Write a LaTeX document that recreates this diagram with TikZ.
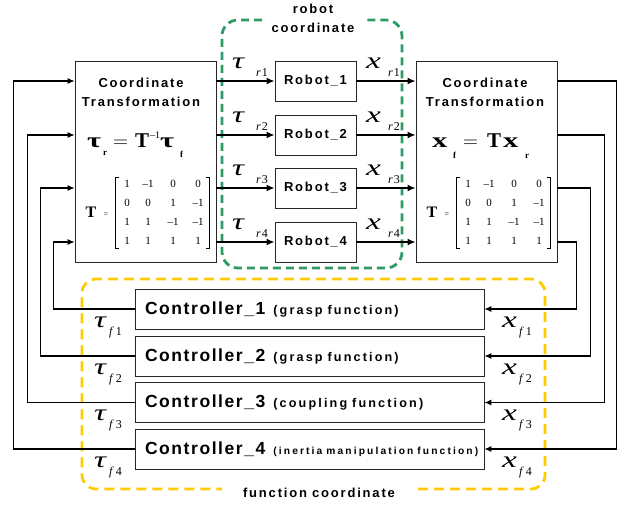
\documentclass[tikz,border=0pt]{standalone}
\usepackage{fontspec}
\usepackage{graphicx}
\setmainfont{Liberation Sans}
\newfontfamily\spcA{Liberation Sans}[LetterSpace=14]
\newfontfamily\spcB{Liberation Sans}[LetterSpace=9]
\newfontfamily\spcC{Liberation Sans}[LetterSpace=17]
\newfontfamily\spcD{Liberation Sans}[LetterSpace=21]
\newfontfamily\tms{Liberation Serif}
\usetikzlibrary{arrows.meta,calc}
\definecolor{grn}{RGB}{46,155,100}
\definecolor{ylw}{RGB}{255,204,0}
\newcommand\ttlfont{\spcA\bfseries\fontsize{13}{19}\selectfont}
\newcommand\robfont{\spcA\bfseries\fontsize{13}{15}\selectfont}
\newcommand\ctlfont{\spcB\bfseries\fontsize{17.5}{19}\selectfont}
\newcommand\fnfont{\spcC\bfseries\fontsize{12.6}{13}\selectfont}
\newcommand\fnsmall{\spcD\bfseries\fontsize{10.2}{11}\selectfont}
\newcommand\bigit{\tms\itshape\fontsize{23}{23}\selectfont}
\newcommand\subit{\tms\fontsize{12}{12}\selectfont}
\newcommand\eqfont{\tms\bfseries\fontsize{21}{21}\selectfont}
\newcommand\eqsub{\tms\bfseries\fontsize{9}{9}\selectfont}
\newcommand\mx{\tms\fontsize{11}{11}\selectfont}
\newcommand\wide[1]{\scalebox{1.45}[1]{#1}}
\newcommand\wsp{\hspace{5pt}}
\begin{document}
\begin{tikzpicture}[x=1pt,y=-1pt,
  box/.style={draw=black!85, line width=0.8pt, inner sep=0pt},
  ctbox/.style={box, minimum width=141pt, minimum height=201pt},
  rob/.style={box, minimum width=81pt, minimum height=40pt, font=\robfont},
  ctl/.style={box, minimum height=40pt, text width=329pt, inner xsep=10pt, align=left},
  fb/.style={line width=1.1pt, -{Latex[length=7pt,width=6pt]}},
  bigarr/.style={line width=2.2pt, -{Latex[length=8pt,width=7pt]}},
  lab/.style={anchor=base west, inner sep=0pt},
  ent/.style={font=\mx, inner sep=0pt},
  brk/.style={line width=0.6pt},
  gdash/.style={draw=grn, line width=2.8pt, dash pattern=on 8pt off 5pt, rounded corners=16pt},
  ydash/.style={draw=ylw, line width=2.8pt, dash pattern=on 10pt off 6pt, rounded corners=14pt},
  captxt/.style={font=\ttlfont, align=center, inner sep=0pt}
]
\useasboundingbox (0,0) rectangle (624,506);

% coordinate systems (dashed regions)
\draw[gdash] (262,20) -- (222,20) -- (222,268) -- (402,268) -- (402,20) -- (365,20);
\node[captxt] (rcap) at (313,18) {robot\\coordinate};
\draw[ydash] (418,489) -- (545,489) -- (545,279) -- (82,279) -- (82,489) -- (222,489);
\node[captxt] (fcap) at (319,493) {function\wsp coordinate};

% coordinate transformation boxes
\node[ctbox] (lct) at (145.5,161.5) {};
\node[ctbox] (rct) at (486.5,161.5) {};
\node[captxt] (lttl) at (141,92) {Coordinate\\Transformation};
\node[captxt] (rttl) at (485,92) {Coordinate\\Transformation};

% equation  tau_r = T^-1 tau_f
\node[lab, font=\eqfont] (el1) at (87,147) {\wide{τ}};
\node[lab, font=\eqsub] (el2) at (103,155) {r};
\node[lab, font=\eqfont] (el3) at (113,147) {$=$};
\node[lab, font=\eqfont] (el4) at (135,147) {T};
\node[lab, font=\tms\fontsize{10}{10}\selectfont] (el5) at (150,138) {–1};
\node[lab, font=\eqfont] (el6) at (160,147) {\wide{τ}};
\node[lab, font=\eqsub] (el7) at (180,157) {f};
% equation  x_f = T x_r
\node[lab, font=\eqfont] (er1) at (432,147) {\wide{x}};
\node[lab, font=\eqsub] (er2) at (453,158) {f};
\node[lab, font=\eqfont] (er3) at (463,147) {$=$};
\node[lab, font=\eqfont] (er4) at (487,147) {T};
\node[lab, font=\eqfont] (er5) at (503,147) {\wide{x}};
\node[lab, font=\eqsub] (er6) at (525,158) {r};

% matrices
\foreach \side/\ox in {l/0, r/341}{
  \node[ent, font=\tms\bfseries\fontsize{16}{16}\selectfont] (T\side) at (91+\ox,212) {T};
  \node[ent, font=\tms\fontsize{8}{8}\selectfont] (E\side) at (106+\ox,215) {=};
  \draw[brk] (119+\ox,177) -- (115.5+\ox,177) -- (115.5+\ox,248) -- (119+\ox,248);
  \draw[brk] (206+\ox,177) -- (209.5+\ox,177) -- (209.5+\ox,248) -- (206+\ox,248);
  \foreach \r/\y in {1/184, 2/203, 3/222, 4/241}{
    \foreach \c/\x in {1/127, 2/148, 3/173, 4/198}{
      \coordinate (m\side\r\c) at (\x+\ox,\y);
    }
  }
  \node[ent] at (m\side11) {1};  \node[ent] at (m\side12) {–1}; \node[ent] at (m\side13) {0};  \node[ent] at (m\side14) {0};
  \node[ent] at (m\side21) {0};  \node[ent] at (m\side22) {0};  \node[ent] at (m\side23) {1};  \node[ent] at (m\side24) {–1};
  \node[ent] at (m\side31) {1};  \node[ent] at (m\side32) {1};  \node[ent] at (m\side33) {–1}; \node[ent] at (m\side34) {–1};
  \node[ent] at (m\side41) {1};  \node[ent] at (m\side42) {1};  \node[ent] at (m\side43) {1};  \node[ent] at (m\side44) {1};
}

% robots
\foreach \i/\y in {1/81, 2/135, 3/188, 4/242}{
  \node[rob] (r\i) at (315.5,\y) {Robot\_\i};
  \draw[bigarr] (lct.east |- r\i) -- (r\i.west);
  \draw[bigarr] (r\i.east) -- (rct.west |- r\i);
  \node[lab, font=\bigit] (tr\i) at (232,\y-13) {\wide{τ}};
  \node[lab, font=\subit] (trs\i) at (256,\y-5) {\textit{r}\kern1pt\i};
  \node[lab, font=\bigit] (xr\i) at (366,\y-13) {\wide{x}};
  \node[lab, font=\subit] (xrs\i) at (388,\y-5) {\textit{r}\kern1pt\i};
}

% controllers
\node[ctl] (c1) at (309.5,309) {\ctlfont Controller\_1\hspace{8pt}{\fnfont (grasp\wsp function)}};
\node[ctl] (c2) at (309.5,356) {\ctlfont Controller\_2\hspace{8pt}{\fnfont (grasp\wsp function)}};
\node[ctl] (c3) at (309.5,402.5) {\ctlfont Controller\_3\hspace{8pt}{\fnfont (coupling\wsp function)}};
\node[ctl] (c4) at (309.5,449) {\ctlfont Controller\_4\hspace{8pt}{\fnsmall (inertia\hspace{4pt}manipulation\hspace{4pt}function)}};

\foreach \i/\y in {1/327, 2/374, 3/420, 4/467}{
  \node[lab, font=\bigit] (tf\i) at (94,\y) {\wide{τ}};
  \node[lab, font=\subit] (tfs\i) at (109,\y+8) {\textit{f}\kern2pt\i};
  \node[lab, font=\bigit] (xf\i) at (502,\y) {\wide{x}};
  \node[lab, font=\subit] (xfs\i) at (519,\y+8) {\textit{f}\kern2pt\i};
}

% feedback: controllers -> left transformation
\draw[fb] (c1.west) -- ++(-81,0) |- (lct.west |- r4);
\draw[fb] (c2.west) -- ++(-94,0) |- (lct.west |- r3);
\draw[fb] (c3.west) -- ++(-107,0) |- (lct.west |- r2);
\draw[fb] (c4.west) -- ++(-121,0) |- (lct.west |- r1);

% right transformation -> controllers
\draw[fb] (rct.east |- r1) -- ++(59,0) |- (c4.east);
\draw[fb] (rct.east |- r2) -- ++(47,0) |- (c3.east);
\draw[fb] (rct.east |- r3) -- ++(33,0) |- (c2.east);
\draw[fb] (rct.east |- r4) -- ++(19,0) |- (c1.east);
\end{tikzpicture}
\end{document}
